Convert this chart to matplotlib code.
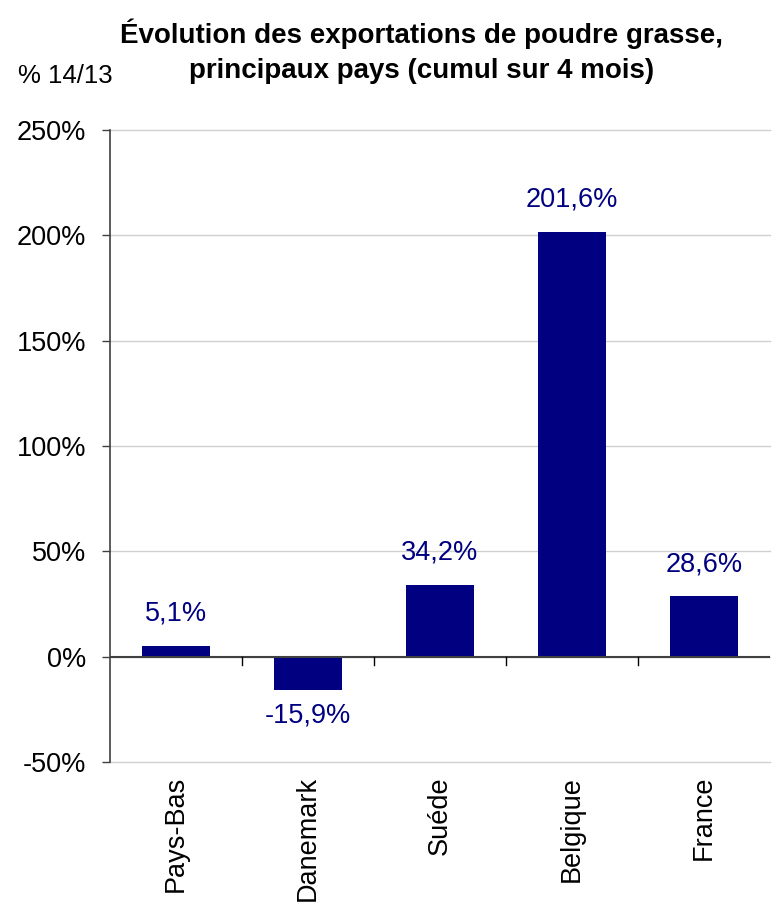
import numpy as np
import matplotlib.pyplot as plt

# Data
pays = ["Pays-Bas", "Danemark", "Suéde", "Belgique", "France"]
evolution = [5.1, -15.9, 34.2, 201.6, 28.6]
labels = ["5,1%", "-15,9%", "34,2%", "201,6%", "28,6%"]
yticks = [-50, 0, 50, 100, 150, 200, 250]

plt.rcParams['font.family'] = ['Liberation Sans', 'DejaVu Sans']

navy = "#000080"
fig = plt.figure(figsize=(7.8, 9.09), dpi=100)
ax = fig.add_axes([0.141, 0.1617, 0.846, 0.6953])

x = np.arange(len(pays))
ax.bar(x, evolution, width=0.52, color=navy, zorder=3)

for xi, v, lab in zip(x, evolution, labels):
    if v >= 0:
        ax.text(xi, v + 9, lab, ha='center', va='bottom', color=navy, fontsize=19.5)
    else:
        ax.text(xi, v - 6, lab, ha='center', va='top', color=navy, fontsize=19.5)

ax.set_xlim(-0.5, len(pays) - 0.5)
ax.set_ylim(-50, 250)
ax.set_yticks(yticks)
ax.set_yticklabels([f"{t}%" for t in yticks], fontsize=19.5)
ax.yaxis.grid(True, color="#d0d0d0", linewidth=1, zorder=0)
for g in ax.get_ygridlines():
    g.set_clip_on(False)
ax.tick_params(axis='y', length=6, width=1, color="#404040", pad=11)

# category axis crosses at zero
ax.set_xticks([])
ax.axhline(0, color="#404040", linewidth=1.5, zorder=4)
for b in np.arange(0.5, len(pays) - 0.5, 1.0):
    ax.plot([b, b], [0, -4], color="black", linewidth=1, zorder=4, clip_on=False)
for xi, p in zip(x, pays):
    ax.annotate(p, xy=(xi, -50), xytext=(0, -10), textcoords='offset points',
                ha='center', va='top', rotation=90, fontsize=19.5)

for s in ['top', 'right', 'bottom']:
    ax.spines[s].set_visible(False)
ax.spines['left'].set_color("#404040")
ax.spines['left'].set_linewidth(1.2)

fig.text(0.541, 0.963, "Évolution des exportations de poudre grasse,",
         ha='center', va='center', fontsize=20, fontweight='bold')
fig.text(0.541, 0.922, "principaux pays (cumul sur 4 mois)",
         ha='center', va='center', fontsize=20, fontweight='bold')
fig.text(0.023, 0.916, "% 14/13", ha='left', va='center', fontsize=18.5)

fig.savefig("out.png", dpi=100)
